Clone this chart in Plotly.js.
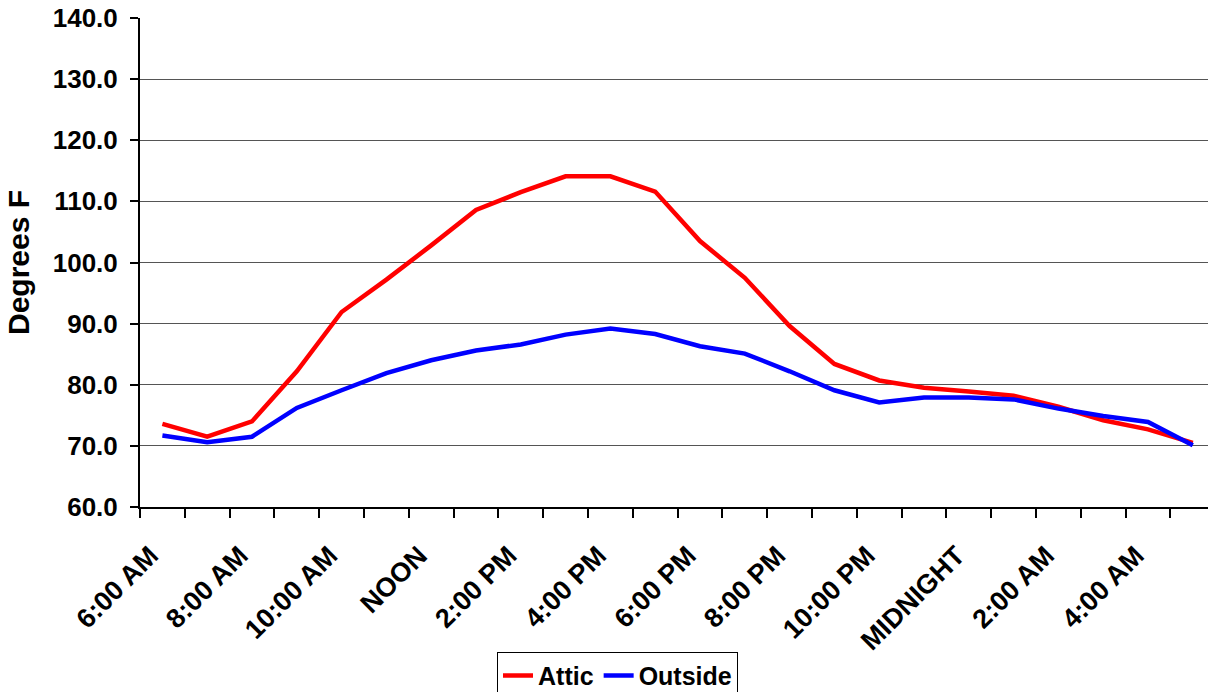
<!DOCTYPE html>
<html>
<head>
<meta charset="utf-8">
<script src="https://cdn.plot.ly/plotly-3.0.1.min.js"></script>
<style>
  html, body { margin: 0; padding: 0; background: #ffffff; }
  #chart { width: 1208px; height: 692px; }
</style>
</head>
<body>
<div id="chart"></div>
<script>
// Hourly readings over one day, starting at 6 AM
const hours = [
  '6:00 AM', '7:00 AM', '8:00 AM', '9:00 AM', '10:00 AM', '11:00 AM',
  'NOON', '1:00 PM', '2:00 PM', '3:00 PM', '4:00 PM', '5:00 PM',
  '6:00 PM', '7:00 PM', '8:00 PM', '9:00 PM', '10:00 PM', '11:00 PM',
  'MIDNIGHT', '1:00 AM', '2:00 AM', '3:00 AM', '4:00 AM', '5:00 AM'
];

// Labelled hours on the axis (every second reading)
const tickLabels = [
  '6:00 AM', '8:00 AM', '10:00 AM', 'NOON', '2:00 PM', '4:00 PM',
  '6:00 PM', '8:00 PM', '10:00 PM', 'MIDNIGHT', '2:00 AM', '4:00 AM'
];

// Temperatures, degrees F
const attic = [
  73.6, 71.5, 74.0, 82.2, 91.9, 97.2,
  102.8, 108.6, 111.5, 114.1, 114.1, 111.6,
  103.5, 97.5, 89.6, 83.4, 80.7, 79.5,
  78.9, 78.2, 76.4, 74.2, 72.7, 70.5
];
const outside = [
  71.7, 70.6, 71.5, 76.2, 79.1, 81.9,
  84.0, 85.6, 86.6, 88.2, 89.2, 88.3,
  86.3, 85.1, 82.2, 79.1, 77.1, 77.9,
  77.9, 77.6, 76.1, 74.9, 73.9, 70.1
];

const idx = hours.map((_, i) => i);
const tickVals = tickLabels.map(label => hours.indexOf(label));

const boldFont = { family: 'Liberation Sans, Arial, sans-serif', weight: 700, color: '#000000' };

const traces = [
  {
    name: 'Attic', x: idx, y: attic, text: hours, type: 'scatter', mode: 'lines',
    line: { color: '#ff0000', width: 4.5 },
    hovertemplate: '%{text}: %{y:.1f}<extra>Attic</extra>'
  },
  {
    name: 'Outside', x: idx, y: outside, text: hours, type: 'scatter', mode: 'lines',
    line: { color: '#0000ff', width: 4.5 },
    hovertemplate: '%{text}: %{y:.1f}<extra>Outside</extra>'
  }
];

const layout = {
  width: 1208,
  height: 692,
  margin: { l: 140, r: 0, t: 18, b: 185, autoexpand: false },
  paper_bgcolor: '#ffffff',
  plot_bgcolor: '#ffffff',
  showlegend: true,
  legend: {
    orientation: 'h',
    x: (497 - 140) / 1068, xanchor: 'left',
    y: -0.296, yanchor: 'top',
    bordercolor: '#000000', borderwidth: 1,
    bgcolor: '#ffffff',
    font: Object.assign({ size: 25 }, boldFont),
    itemwidth: 30,
    traceorder: 'normal'
  },
  xaxis: {
    type: 'linear',
    range: [-0.5, -0.5 + 1068 / 44.8],
    tickmode: 'array',
    tickvals: tickVals,
    ticktext: tickLabels,
    tickangle: -45,
    ticks: 'outside', ticklen: 0, tickcolor: '#000000',
    ticklabelstandoff: 20,
    ticklabelshift: -12,
    minor: { ticks: 'outside', tick0: -0.5, dtick: 1, ticklen: 9, tickwidth: 1.5, tickcolor: '#000000', showgrid: false },
    tickfont: Object.assign({ size: 27 }, boldFont),
    showline: true, linecolor: '#000000', linewidth: 2,
    showgrid: false, zeroline: false,
    fixedrange: true
  },
  yaxis: {
    range: [60, 140],
    tick0: 60, dtick: 10,
    tickformat: '.1f',
    ticks: 'outside', ticklen: 8, tickwidth: 1.5, tickcolor: '#000000',
    ticklabelstandoff: 7,
    tickfont: Object.assign({ size: 26 }, boldFont),
    showline: true, linecolor: '#000000', linewidth: 2,
    showgrid: true, gridcolor: '#555555', gridwidth: 1,
    zeroline: false,
    title: { text: 'Degrees F', font: Object.assign({ size: 30 }, boldFont), standoff: 14 },
    fixedrange: true
  }
};

Plotly.newPlot('chart', traces, layout, { displayModeBar: false });
</script>
</body>
</html>
